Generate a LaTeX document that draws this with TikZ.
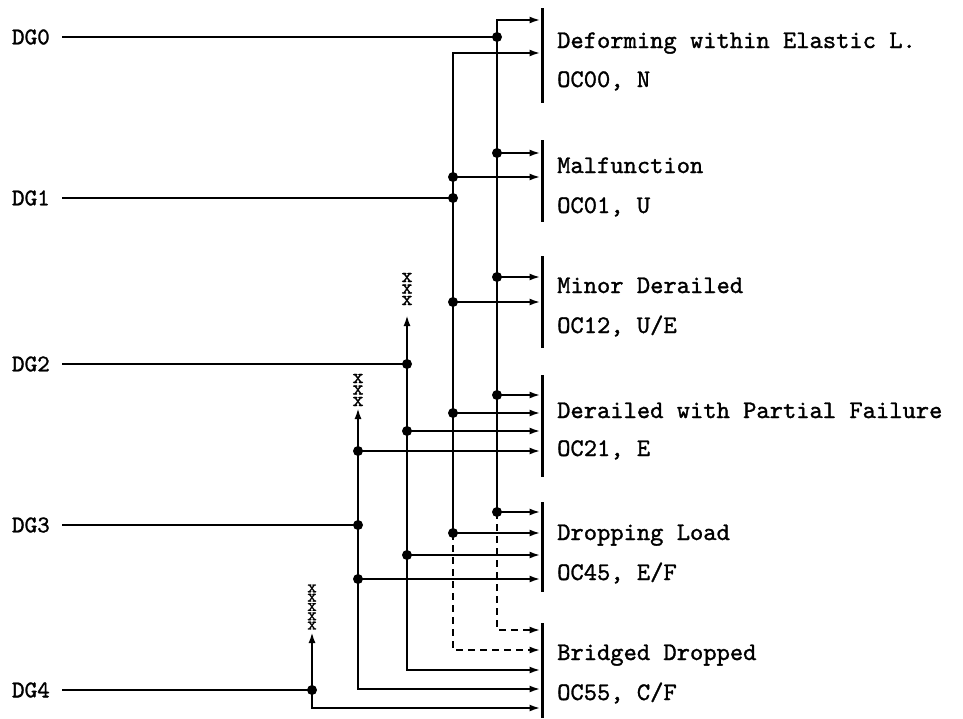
\documentclass[tikz,border=0pt]{standalone}
\usepackage{fontspec}
\newfontfamily\heavytt{lmmono10-regular.otf}[FakeBold=1.2]
\usetikzlibrary{arrows.meta}
\begin{document}
\begin{tikzpicture}[x=1pt,y=-1pt,
  ln/.style={line width=2.1pt},
  arr/.style={ln,-{Latex[length=11pt,width=7pt]}},
  arrb/.style={ln,{Latex[length=11pt,width=7pt]}-{Latex[length=11pt,width=7pt]}},
  dsh/.style={arr,dash pattern=on 7pt off 5pt},
  barline/.style={line width=3pt},
  dot/.style={circle,fill,inner sep=0pt,minimum size=10pt},
  lbl/.style={anchor=base west,inner sep=0pt,font=\fontsize{25.3}{30}\selectfont\heavytt},
  dg/.style={anchor=east,inner sep=0pt,font=\fontsize{24}{28}\selectfont\heavytt},
  xm/.style={inner sep=0pt,align=center,font=\fontsize{21}{11.5}\selectfont\heavytt},
  xmt/.style={inner sep=0pt,align=center,font=\fontsize{18}{9.3}\selectfont\heavytt}]
\useasboundingbox (0,0) rectangle (963,718);
% bar x
\coordinate (bx) at (540.5,0);
% outcome bars
\coordinate (b1t) at (542,8);   \coordinate (b1b) at (542,103);
\coordinate (b2t) at (542,140); \coordinate (b2b) at (542,222);
\coordinate (b3t) at (542,256); \coordinate (b3b) at (542,348);
\coordinate (b4t) at (542,375); \coordinate (b4b) at (542,477);
\coordinate (b5t) at (542,502); \coordinate (b5b) at (542,592);
\coordinate (b6t) at (542,623); \coordinate (b6b) at (542,718);
\foreach \b in {b1,b2,b3,b4,b5,b6} \draw[barline] (\b t) -- (\b b);
% labels
\node[lbl] (t1a) at (557,48) {Deforming within Elastic L.};
\node[lbl] (t1b) at (557,87) {OC00, N};
\node[lbl] (t2a) at (557,173) {Malfunction};
\node[lbl] (t2b) at (557,213) {OC01, U};
\node[lbl] (t3a) at (557,293) {Minor Derailed};
\node[lbl] (t3b) at (557,333) {OC12, U/E};
\node[lbl] (t4a) at (557,418) {Derailed with Partial Failure};
\node[lbl] (t4b) at (557,456) {OC21, E};
\node[lbl] (t5a) at (557,540) {Dropping Load};
\node[lbl] (t5b) at (557,580) {OC45, E/F};
\node[lbl] (t6a) at (557,660) {Bridged Dropped};
\node[lbl] (t6b) at (557,700) {OC55, C/F};
% DG labels
\node[dg] (dg0) at (50,37) {DG0};
\node[dg] (dg1) at (50,198) {DG1};
\node[dg] (dg2) at (50,364) {DG2};
\node[dg] (dg3) at (50,525) {DG3};
\node[dg] (dg4) at (50,690) {DG4};
% junctions with DG lines
\coordinate (j0) at (497,37);
\coordinate (j1) at (453,198);
\coordinate (j2) at (407,364);
\coordinate (j3) at (358,525);
\coordinate (j4) at (312,690);
\foreach \i in {0,...,4} \draw[ln] ([xshift=12pt]dg\i.east) -- (j\i);
% V0
\coordinate (v0t) at (497,20);
\coordinate (v0b) at (497,512);
\coordinate (v0d) at (497,630);
\draw[arr] (v0b) -- (v0t) -- (v0t -| bx);
\draw[dsh] (v0b) -- (v0d) -- (v0d -| bx);
\coordinate (a01) at (497,153);
\coordinate (a02) at (497,277);
\coordinate (a03) at (497,395);
\foreach \p in {a01,a02,a03,v0b} \draw[arr] (\p) -- (\p -| bx);
% V1
\coordinate (v1t) at (453,53);
\coordinate (v1b) at (453,533);
\coordinate (v1d) at (453,650);
\draw[arr] (v1b) -- (v1t) -- (v1t -| bx);
\draw[dsh] (v1b) -- (v1d) -- (v1d -| bx);
\coordinate (a11) at (453,177);
\coordinate (a12) at (453,302);
\coordinate (a13) at (453,413);
\foreach \p in {a11,a12,a13,v1b} \draw[arr] (\p) -- (\p -| bx);
% V2
\coordinate (v2u) at (407,315);
\coordinate (v2b) at (407,670);
\draw[arrb] (v2u) -- (v2b) -- (v2b -| bx);
\coordinate (a21) at (407,431);
\coordinate (a22) at (407,555);
\foreach \p in {a21,a22} \draw[arr] (\p) -- (\p -| bx);
% V3
\coordinate (v3u) at (358,408);
\coordinate (v3b) at (358,689);
\draw[arrb] (v3u) -- (v3b) -- (v3b -| bx);
\coordinate (a31) at (358,451);
\coordinate (a32) at (358,579);
\foreach \p in {a31,a32} \draw[arr] (\p) -- (\p -| bx);
% V4
\coordinate (v4u) at (312,632);
\coordinate (v4b) at (312,708);
\draw[arrb] (v4u) -- (v4b) -- (v4b -| bx);
% dots
\foreach \p in {j0,j1,j2,j3,j4,a01,a02,a03,v0b,a11,a12,a13,v1b,a21,a22,a31,a32}
  \node[dot] at (\p) {};
% x marks
\node[xm] (x2) at (407,289) {x\\x\\x};
\node[xm] (x3) at (358,390) {x\\x\\x};
\node[xmt] (x4) at (312,607) {x\\x\\x\\x\\x};
\end{tikzpicture}
\end{document}
